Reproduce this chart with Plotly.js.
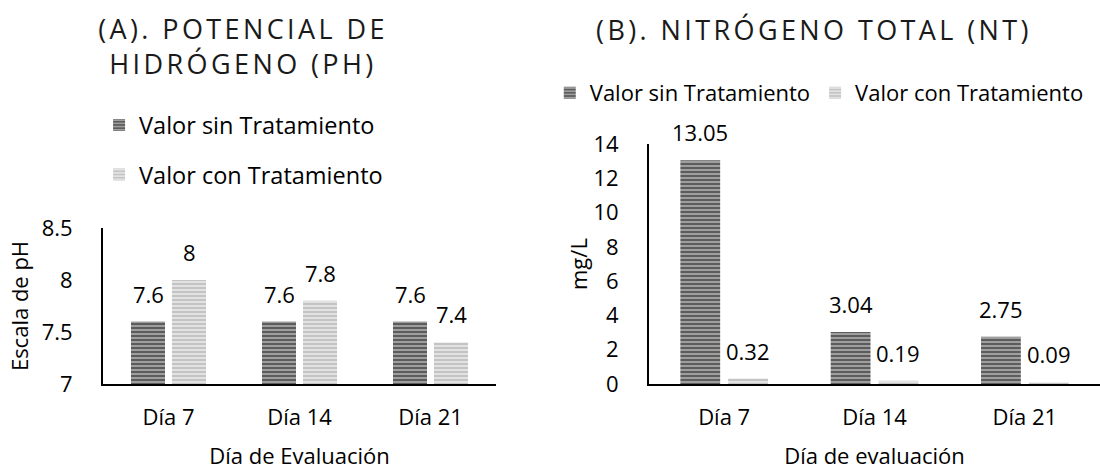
<!DOCTYPE html>
<html>
<head>
<meta charset="utf-8">
<script src="https://cdn.plot.ly/plotly-3.0.1.min.js"></script>
<style>
  html, body { margin:0; padding:0; background:#fff; }
  #wrap { position:relative; width:1100px; height:470px; overflow:hidden; }
  #chartA { position:absolute; left:0; top:0; width:540px; height:470px; }
  #chartB { position:absolute; left:540px; top:0; width:560px; height:470px; }
  .gtitle { letter-spacing: 3.4px; }
</style>
</head>
<body>
<div id="wrap"><div id="chartA"></div><div id="chartB"></div></div>
<script>
// ---- data ----
const categories = ['Día 7', 'Día 14', 'Día 21'];
const seriesNames = ['Valor sin Tratamiento', 'Valor con Tratamiento'];
const phSin = [7.6, 7.6, 7.6];
const phCon = [8, 7.8, 7.4];
const ntSin = [13.05, 3.04, 2.75];
const ntCon = [0.32, 0.19, 0.09];
const titleA = '(A). POTENCIAL DE<br>HIDRÓGENO (PH)';
const titleB = '(B). NITRÓGENO TOTAL (NT)';
const xTitleA = 'Día de Evaluación';
const xTitleB = 'Día de evaluación';
const yTitleA = 'Escala de pH';
const yTitleB = 'mg/L';

// ---- styles ----
const FONT = '"Open Sans", "Noto Sans", sans-serif';
const FS = 22;
const LFS = 23.5;
const darkPattern = {shape: '-', bgcolor: '#5c5c5c', fgcolor: '#a6a6a6', size: 4, solidity: 0.45, fillmode: 'replace'};
const lightPattern = {shape: '-', bgcolor: '#c4c4c4', fgcolor: '#e6e6e6', size: 4, solidity: 0.45, fillmode: 'replace'};

function bars(sin, con) {
  return [
    {type: 'bar', name: seriesNames[0], x: categories, y: sin, legendgroup: 'a',
     marker: {color: '#5c5c5c', pattern: darkPattern, line: {width: 0}}, hoverinfo: 'skip'},
    {type: 'bar', name: seriesNames[1], x: categories, y: con, legendgroup: 'b',
     marker: {color: '#c4c4c4', pattern: lightPattern, line: {width: 0}}, hoverinfo: 'skip'}
  ];
}

function labels(sin, con, bargap) {
  const off = (1 - bargap) / 4;
  const ann = [];
  [sin, con].forEach((vals, s) => {
    vals.forEach((v, i) => {
      ann.push({x: i + (s === 0 ? -off : off), y: v, xref: 'x', yref: 'y', text: String(v),
        showarrow: false, yanchor: 'bottom', xanchor: 'center', yshift: 11,
        font: {family: FONT, size: FS, color: '#000'}});
    });
  });
  return ann;
}

function axisCommon() {
  return {showline: true, linecolor: '#000', linewidth: 2, showgrid: false, zeroline: false,
          ticks: '', fixedrange: true, tickfont: {family: FONT, size: FS, color: '#000'}};
}

// ---- chart A ----
const gapA = 0.374;
const layoutA = {
  width: 540, height: 470,
  margin: {l: 103, r: 44, t: 228, b: 86},
  paper_bgcolor: '#fff', plot_bgcolor: '#fff',
  font: {family: FONT, size: FS, color: '#000'},
  title: {text: titleA, font: {family: FONT, size: 27, color: '#1a1a1a'},
          xref: 'container', x: 243 / 540, xanchor: 'center', yref: 'container', y: 1 - 39 / 470, yanchor: 'top'},
  barmode: 'group', bargap: gapA, bargroupgap: 0.17,
  xaxis: Object.assign(axisCommon(), {type: 'category', ticklabelstandoff: 13,
          title: {text: xTitleA, standoff: 30, font: {family: FONT, size: FS, color: '#000'}}}),
  yaxis: Object.assign(axisCommon(), {range: [7, 8.5], dtick: 0.5, ticklabelstandoff: 24,
          title: {text: yTitleA, standoff: 7, font: {family: FONT, size: FS, color: '#000'}}}),
  showlegend: true,
  legend: {orientation: 'v', x: -0.01, xanchor: 'left', y: 1.80, yanchor: 'top',
           traceorder: 'grouped', tracegroupgap: 16, font: {family: FONT, size: LFS, color: '#000'}},
  annotations: labels(phSin, phCon, gapA)
};
Plotly.newPlot('chartA', bars(phSin, phCon), layoutA, {staticPlot: true, displayModeBar: false});

// ---- chart B ----
const gapB = 0.364;
const annB = labels(ntSin, ntCon, gapB);
annB.push({text: yTitleB, xref: 'paper', yref: 'paper', x: 0, y: 0.5, xshift: -71, textangle: -90,
           showarrow: false, xanchor: 'center', yanchor: 'middle', font: {family: FONT, size: FS, color: '#000'}});
const layoutB = {
  width: 560, height: 470,
  margin: {l: 109, r: 0, t: 144, b: 86},
  paper_bgcolor: '#fff', plot_bgcolor: '#fff',
  font: {family: FONT, size: FS, color: '#000'},
  title: {text: titleB, font: {family: FONT, size: 27, color: '#1a1a1a'},
          xref: 'container', x: 274 / 560, xanchor: 'center', yref: 'container', y: 1 - 21 / 470, yanchor: 'top'},
  barmode: 'group', bargap: gapB, bargroupgap: 0.167,
  xaxis: Object.assign(axisCommon(), {type: 'category', ticklabelstandoff: 13,
          title: {text: xTitleB, standoff: 30, font: {family: FONT, size: FS, color: '#000'}}}),
  yaxis: Object.assign(axisCommon(), {range: [0, 14], dtick: 2, ticklabelstandoff: 24}),
  showlegend: true,
  legend: {orientation: 'h', x: -0.22, xanchor: 'left', y: 1.30, yanchor: 'top',
           font: {family: FONT, size: FS, color: '#000'}},
  annotations: annB
};
Plotly.newPlot('chartB', bars(ntSin, ntCon), layoutB, {staticPlot: true, displayModeBar: false});
</script>
</body>
</html>
